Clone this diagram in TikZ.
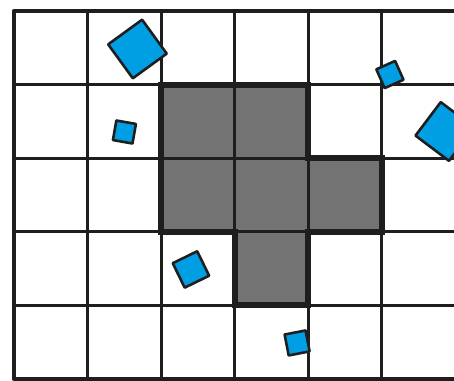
\documentclass[tikz,border=0pt]{standalone}
\usetikzlibrary{positioning}
\definecolor{tileblue}{HTML}{009FE3}
\definecolor{cellgrey}{HTML}{737373}
\definecolor{inkblack}{HTML}{1E1E1E}
\begin{document}
\begin{tikzpicture}[x=1cm, y=1cm,
  tile/.style={rectangle, draw=inkblack, line width=1pt, fill=tileblue, inner sep=0pt, line join=round}]
  \useasboundingbox (-0.19,-0.027) rectangle (5.98,5.15);
  \clip (-0.19,-0.027) rectangle (5.98,5.15);
  % occupied cells
  \fill[cellgrey] (2,4) -- (4,4) -- (4,3) -- (5,3) -- (5,2) -- (4,2) -- (4,1) -- (3,1) -- (3,2) -- (2,2) -- cycle;
  % grid
  \draw[inkblack, line width=1.15pt] (0,0) grid (6.5,5);
  \draw[inkblack, line width=1.7pt, line join=round] (6.5,5) -- (0,5) -- (0,0) -- (6.5,0);
  % outline of the occupied cells
  \draw[inkblack, line width=2.3pt] (2,4) -- (4,4) -- (4,3) -- (5,3) -- (5,2) -- (4,2) -- (4,1) -- (3,1) -- (3,2) -- (2,2) -- cycle;
  % tiles
  \node[tile, minimum size=0.57cm, rotate=36] (tileA) at (1.678,4.484) {};
  \node[tile, minimum size=0.27cm, rotate=-10] (tileB) at (1.501,3.356) {};
  \node[tile, minimum size=0.28cm, rotate=24] (tileC) at (5.109,4.137) {};
  \node[tile, minimum size=0.57cm, rotate=53] (tileD) at (5.856,3.363) {};
  \node[tile, minimum size=0.37cm, rotate=26] (tileE) at (2.405,1.488) {};
  \node[tile, minimum size=0.29cm, rotate=11] (tileF) at (3.848,0.489) {};
\end{tikzpicture}
\end{document}
